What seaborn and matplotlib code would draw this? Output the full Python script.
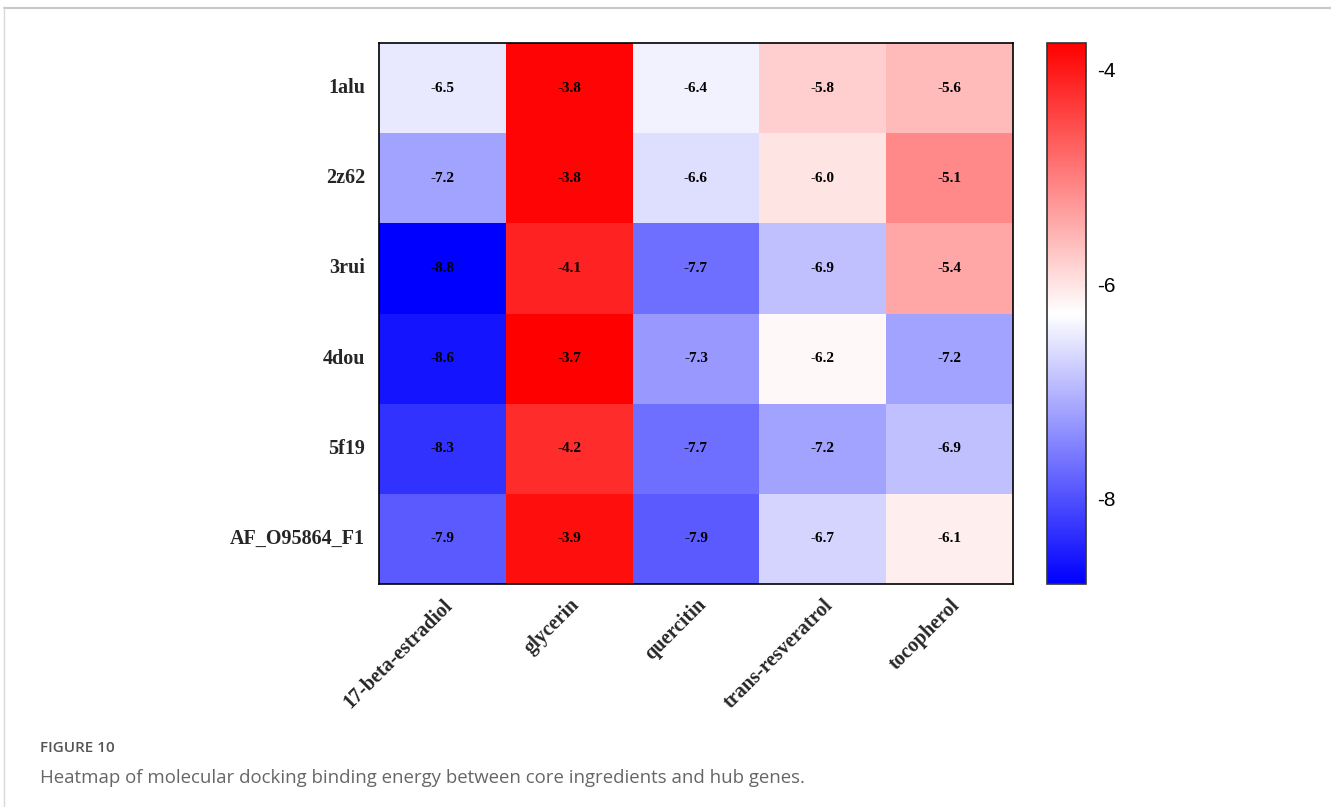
import numpy as np
import pandas as pd
import matplotlib
matplotlib.use("Agg")
import matplotlib.pyplot as plt
import seaborn as sns

proteins = ["1alu", "2z62", "3rui", "4dou", "5f19", "AF_O95864_F1"]
compounds = ["17-beta-estradiol", "glycerin", "quercitin", "trans-resveratrol", "tocopherol"]
estradiol = [-6.5, -7.2, -8.8, -8.6, -8.3, -7.9]
glycerin = [-3.8, -3.8, -4.1, -3.7, -4.2, -3.9]
quercitin = [-6.4, -6.6, -7.7, -7.3, -7.7, -7.9]
resveratrol = [-5.8, -6.0, -6.9, -6.2, -7.2, -6.7]
tocopherol = [-5.6, -5.1, -5.4, -7.2, -6.9, -6.1]
cbar_ticks = [-4, -6, -8]

df = pd.DataFrame({compounds[0]: estradiol, compounds[1]: glycerin, compounds[2]: quercitin,
                   compounds[3]: resveratrol, compounds[4]: tocopherol}, index=proteins)

sns.set_theme(style="white")
W, H = 1331, 807
fig = plt.figure(figsize=(W / 100, H / 100), dpi=100)
ax = fig.add_axes([379 / W, 1 - 584 / H, 634 / W, 541 / H])
cax = fig.add_axes([1047 / W, 1 - 584 / H, 39 / W, 541 / H])

serif = ["Liberation Serif", "DejaVu Serif"]
sns.heatmap(df, ax=ax, cbar_ax=cax, cmap="bwr", vmin=-8.8, vmax=-3.75,
            annot=True, fmt=".1f",
            annot_kws={"fontsize": 11, "fontweight": "bold", "family": serif, "color": "black"})

for s in ax.spines.values():
    s.set_visible(True)
    s.set_color("black")
    s.set_linewidth(1.2)
ax.tick_params(axis="both", length=0)
ax.set_xlabel("")
ax.set_ylabel("")
ax.set_yticklabels(proteins, rotation=0, fontsize=14.5, fontweight="bold", family=serif)
ax.set_xticklabels(compounds, rotation=45, ha="right", rotation_mode="anchor",
                   fontsize=14.5, fontweight="bold", family=serif)
ax.tick_params(axis="y", pad=10)
ax.tick_params(axis="x", pad=8)

cb = ax.collections[0].colorbar
cb.set_ticks(cbar_ticks)
cb.set_ticklabels([str(t) for t in cbar_ticks])
cb.outline.set_visible(True)
cb.outline.set_edgecolor("#333333")
cb.outline.set_linewidth(1.2)
cax.tick_params(axis="y", direction="in", length=6, width=1, colors="#333333",
                left=True, right=True, labelsize=15, pad=8)
for lab in cax.get_yticklabels():
    lab.set_family(["Liberation Sans", "DejaVu Sans"])
    lab.set_color("black")

# frame lines of the figure panel
fig.add_artist(plt.Line2D([4 / W, 1], [1 - 8 / H, 1 - 8 / H], color="#c8c8c8", lw=1.5))
fig.add_artist(plt.Line2D([4 / W, 4 / W], [0, 1 - 8 / H], color="#d8d8d8", lw=1))

fig.text(40 / W, 1 - 748 / H, "FIGURE 10", fontsize=11, color="#555555", fontweight="semibold",
         family=["Open Sans", "DejaVu Sans"], va="center", ha="left")
fig.text(40 / W, 1 - 778 / H, "Heatmap of molecular docking binding energy between core ingredients and hub genes.",
         fontsize=13.4, color="#666666", family=["Open Sans", "DejaVu Sans"], va="center", ha="left")

fig.savefig("out.png", dpi=100)
